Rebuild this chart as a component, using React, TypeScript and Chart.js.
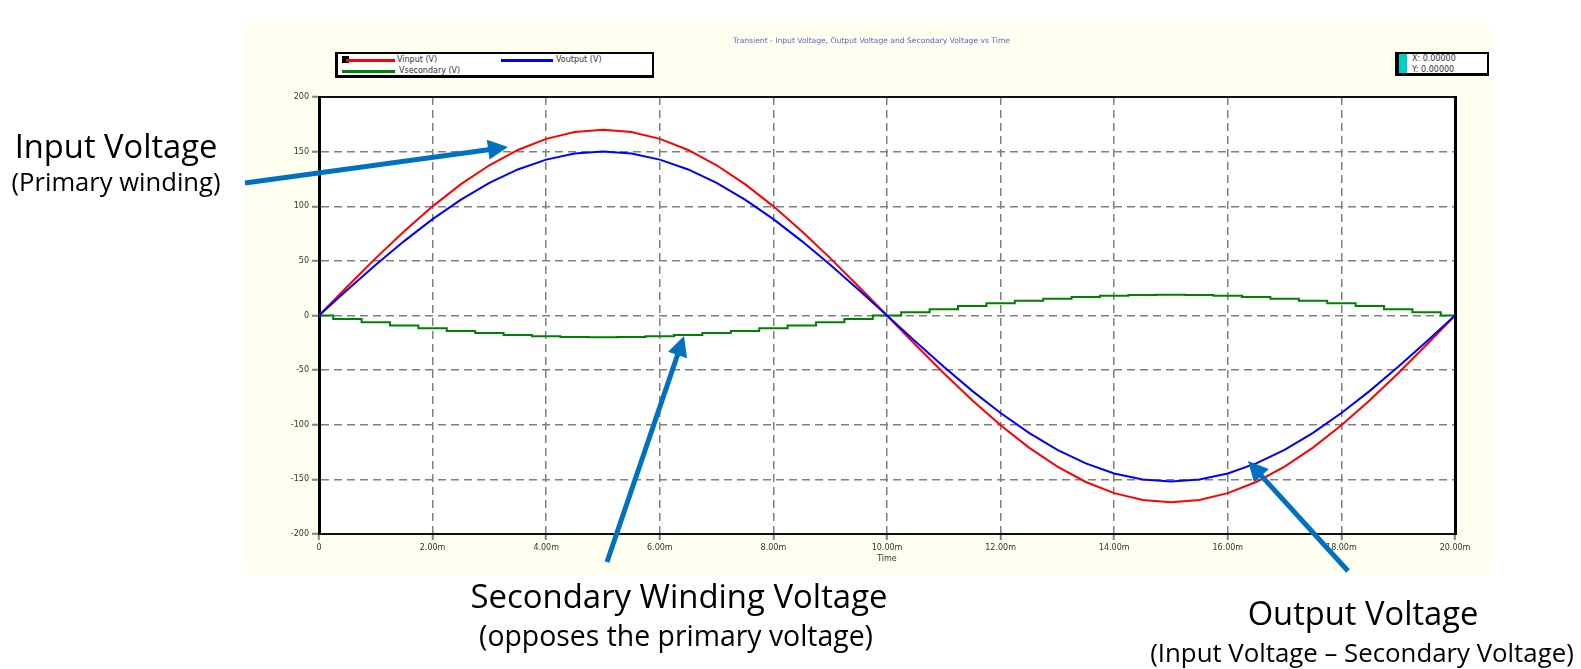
import React, { useEffect, useRef } from "react";
import { Chart, registerables } from "chart.js";

Chart.register(...registerables);

const TIME_MS = [
  0, 0.5, 1, 1.5, 2, 2.5, 3, 3.5, 4, 4.5, 5, 5.5, 6, 6.5, 7, 7.5, 8, 8.5, 9, 9.5, 10,
  10.5, 11, 11.5, 12, 12.5, 13, 13.5, 14, 14.5, 15, 15.5, 16, 16.5, 17, 17.5, 18, 18.5, 19, 19.5, 20,
];
const INPUT_V = [
  0, 26.6, 52.5, 77.2, 99.9, 120.2, 137.5, 151.5, 161.7, 167.9, 170, 167.9, 161.7, 151.5, 137.5, 120.2, 99.9, 77.2, 52.5, 26.6, 0,
  -26.8, -52.8, -77.6, -100.5, -120.9, -138.3, -152.4, -162.6, -168.9, -171, -168.9, -162.6, -152.4, -138.3, -120.9, -100.5, -77.6, -52.8, -26.8, 0,
];
const OUTPUT_V = [
  0, 23.5, 46.4, 68.1, 88.2, 106.1, 121.4, 133.7, 142.7, 148.2, 150, 148.2, 142.7, 133.7, 121.4, 106.1, 88.2, 68.1, 46.4, 23.5, 0,
  -23.8, -47.0, -69.0, -89.3, -107.5, -123.0, -135.4, -144.6, -150.1, -152, -150.1, -144.6, -135.4, -123.0, -107.5, -89.3, -69.0, -47.0, -23.8, 0,
];
const SECONDARY_V = [
  0, -3.1, -6.1, -9.1, -11.7, -14.1, -16.1, -17.8, -19.0, -19.7, -20, -19.7, -19.0, -17.8, -16.1, -14.1, -11.7, -9.1, -6.1, -3.1, 0,
  3.0, 5.8, 8.6, 11.2, 13.4, 15.3, 17.0, 18.0, 18.8, 19, 18.8, 18.0, 17.0, 15.3, 13.4, 11.2, 8.6, 5.8, 3.0, 0,
];
const SERIES_LABELS = ["Vinput (V)", "Voutput (V)", "Vsecondary (V)"];
const SERIES_COLORS = ["#FF0000", "#0000FF", "#008000"];
const TITLE = "Transient - Input Voltage, Output Voltage and Secondary Voltage vs Time";
const X_TITLE = "Time";
const Y_MIN = -200;
const Y_MAX = 200;
const Y_TICK_STEP = 50;
const X_MIN = 0;
const X_MAX = 20;
const X_TICK_STEP = 2;

const ARROWS = [
  { from: [245, 183], to: [508, 147] },
  { from: [607, 562], to: [684, 336] },
  { from: [1348, 571], to: [1248, 461] },
];

function Arrow({ from, to }: { from: number[]; to: number[] }) {
  const dx = to[0] - from[0];
  const dy = to[1] - from[1];
  const len = Math.hypot(dx, dy);
  const ux = dx / len;
  const uy = dy / len;
  const headL = 20;
  const headW = 10;
  const bx = to[0] - ux * headL;
  const by = to[1] - uy * headL;
  const px = -uy;
  const py = ux;
  const pts = `${to[0]},${to[1]} ${bx + px * headW},${by + py * headW} ${bx - px * headW},${by - py * headW}`;
  return (
    <g>
      <line x1={from[0]} y1={from[1]} x2={bx + ux * 2} y2={by + uy * 2} stroke="#0070C0" strokeWidth={5} />
      <polygon points={pts} fill="#0070C0" />
    </g>
  );
}

export default function App() {
  const canvasRef = useRef<HTMLCanvasElement | null>(null);

  useEffect(() => {
    if (!canvasRef.current) return;
    const bgPlugin = {
      id: "plotBg",
      beforeDraw(chart: any) {
        const { ctx, chartArea } = chart;
        ctx.save();
        ctx.fillStyle = "#FFFFFF";
        ctx.fillRect(chartArea.left, chartArea.top, chartArea.right - chartArea.left, chartArea.bottom - chartArea.top);
        ctx.restore();
      },
    };
    const tickFont = { size: 8, family: "DejaVu Sans" };
    const chart = new Chart(canvasRef.current, {
      type: "line",
      data: {
        labels: TIME_MS,
        datasets: [
          { label: SERIES_LABELS[0], data: TIME_MS.map((t, i) => ({ x: t, y: INPUT_V[i] })), borderColor: SERIES_COLORS[0], borderWidth: 2, pointRadius: 0, tension: 0, order: 2 },
          { label: SERIES_LABELS[1], data: TIME_MS.map((t, i) => ({ x: t, y: OUTPUT_V[i] })), borderColor: SERIES_COLORS[1], borderWidth: 2, pointRadius: 0, tension: 0, order: 1 },
          { label: SERIES_LABELS[2], data: TIME_MS.map((t, i) => ({ x: t, y: SECONDARY_V[i] })), borderColor: SERIES_COLORS[2], borderWidth: 2, pointRadius: 0, stepped: "middle", order: 3 },
        ],
      },
      options: {
        animation: false,
        responsive: false,
        layout: { padding: { left: 289, right: 114, top: 97, bottom: 105 } },
        plugins: { legend: { display: false }, title: { display: false }, tooltip: { enabled: false } },
        scales: {
          x: {
            type: "linear",
            min: X_MIN,
            max: X_MAX,
            afterFit: (s: any) => { s.height = 30; },
            ticks: {
              stepSize: X_TICK_STEP,
              color: "#333",
              font: tickFont,
              padding: 3,
              maxRotation: 0,
              callback: (v: any) => (Number(v) === 0 ? "0" : `${Number(v).toFixed(2)}m`),
            },
            title: { display: true, text: X_TITLE, color: "#333", font: tickFont, padding: 0 },
            grid: { color: "#808080", lineWidth: 1.5, tickLength: 6, tickColor: "#808080", tickWidth: 2 },
            border: { color: "#111", width: 2, dash: [8, 5] },
          },
          x2: {
            type: "linear",
            position: "top",
            min: X_MIN,
            max: X_MAX,
            afterFit: (s: any) => { s.height = 0; },
            ticks: { display: false },
            grid: { display: false },
            border: { color: "#111", width: 2 },
          },
          y: {
            min: Y_MIN,
            max: Y_MAX,
            afterFit: (s: any) => { s.width = 30; },
            ticks: { stepSize: Y_TICK_STEP, color: "#333", font: tickFont, padding: 3 },
            grid: { color: "#808080", lineWidth: 1.5, tickLength: 7, tickColor: "#808080", tickWidth: 2 },
            border: { color: "#000", width: 3, dash: [8, 5] },
          },
          y1: {
            position: "right",
            min: Y_MIN,
            max: Y_MAX,
            afterFit: (s: any) => { s.width = 12; },
            ticks: { display: false },
            grid: { display: false },
            border: { color: "#000", width: 3 },
          },
        },
      },
      plugins: [bgPlugin],
    } as any);
    return () => chart.destroy();
  }, []);

  const tiny: React.CSSProperties = { position: "absolute", fontFamily: "DejaVu Sans", fontSize: 8, lineHeight: "9px", color: "#333", whiteSpace: "nowrap" };
  const big = (fs: number, left: number, top: number): React.CSSProperties => ({
    position: "absolute",
    left,
    top,
    fontFamily: "Open Sans",
    fontSize: fs,
    lineHeight: `${(fs * 1.362).toFixed(2)}px`,
    color: "#000",
    whiteSpace: "nowrap",
    textAlign: "center",
    transform: "translateX(-50%)",
  });

  return (
    <div style={{ position: "fixed", left: 0, top: 0, width: 1581, height: 669, background: "#FFFFFF", overflow: "hidden" }}>
      <div style={{ position: "absolute", left: 245, top: 22, width: 1245, height: 553, background: "#FFFFF0" }} />
      <canvas ref={canvasRef} width={1581} height={669} style={{ position: "absolute", left: 0, top: 0, width: 1581, height: 669 }} />
      <div style={{ ...tiny, left: 733, top: 36, fontSize: 7.6, color: "#6A5ACD" }}>{TITLE}</div>
      <div style={{ position: "absolute", left: 335, top: 52, width: 314, height: 21, background: "#FFF", borderTop: "2px solid #000", borderLeft: "3px solid #000", borderBottom: "3px solid #000", borderRight: "2px solid #000" }}>
        <div style={{ position: "absolute", left: 4, top: 2, width: 7, height: 7, background: "#000" }} />
        <div style={{ position: "absolute", left: 8, top: 5, width: 49, height: 3, background: SERIES_COLORS[0] }} />
        <div style={{ ...tiny, left: 59, top: 1 }}>{SERIES_LABELS[0]}</div>
        <div style={{ position: "absolute", left: 163, top: 5, width: 52, height: 3, background: SERIES_COLORS[1] }} />
        <div style={{ ...tiny, left: 218, top: 1 }}>{SERIES_LABELS[1]}</div>
        <div style={{ position: "absolute", left: 4, top: 16, width: 53, height: 3, background: SERIES_COLORS[2] }} />
        <div style={{ ...tiny, left: 61, top: 12 }}>{SERIES_LABELS[2]}</div>
      </div>
      <div style={{ position: "absolute", left: 1395, top: 52, width: 88, height: 19, background: "#FFF", borderTop: "2px solid #000", borderLeft: "4px solid #000", borderBottom: "3px solid #000", borderRight: "2px solid #000" }}>
        <div style={{ position: "absolute", left: 0, top: 0, width: 8, height: 19, background: "#00CCCC" }} />
        <div style={{ ...tiny, left: 13, top: 0 }}>X: 0.00000</div>
        <div style={{ ...tiny, left: 13, top: 11 }}>Y: 0.00000</div>
      </div>

      <div style={big(32.7, 116, 124)}>Input Voltage</div>
      <div style={big(25.6, 116, 165)}>(Primary winding)</div>
      <div style={big(32.9, 679, 574)}>Secondary Winding Voltage</div>
      <div style={big(28.4, 676, 616)}>(opposes the primary voltage)</div>
      <div style={big(32.7, 1363, 591)}>Output Voltage</div>
      <div style={big(25.8, 1362, 635)}>(Input Voltage – Secondary Voltage)</div>

      <svg width={1581} height={669} style={{ position: "absolute", left: 0, top: 0, pointerEvents: "none" }}>
        {ARROWS.map((a, i) => (
          <Arrow key={i} from={a.from} to={a.to} />
        ))}
      </svg>
    </div>
  );
}
